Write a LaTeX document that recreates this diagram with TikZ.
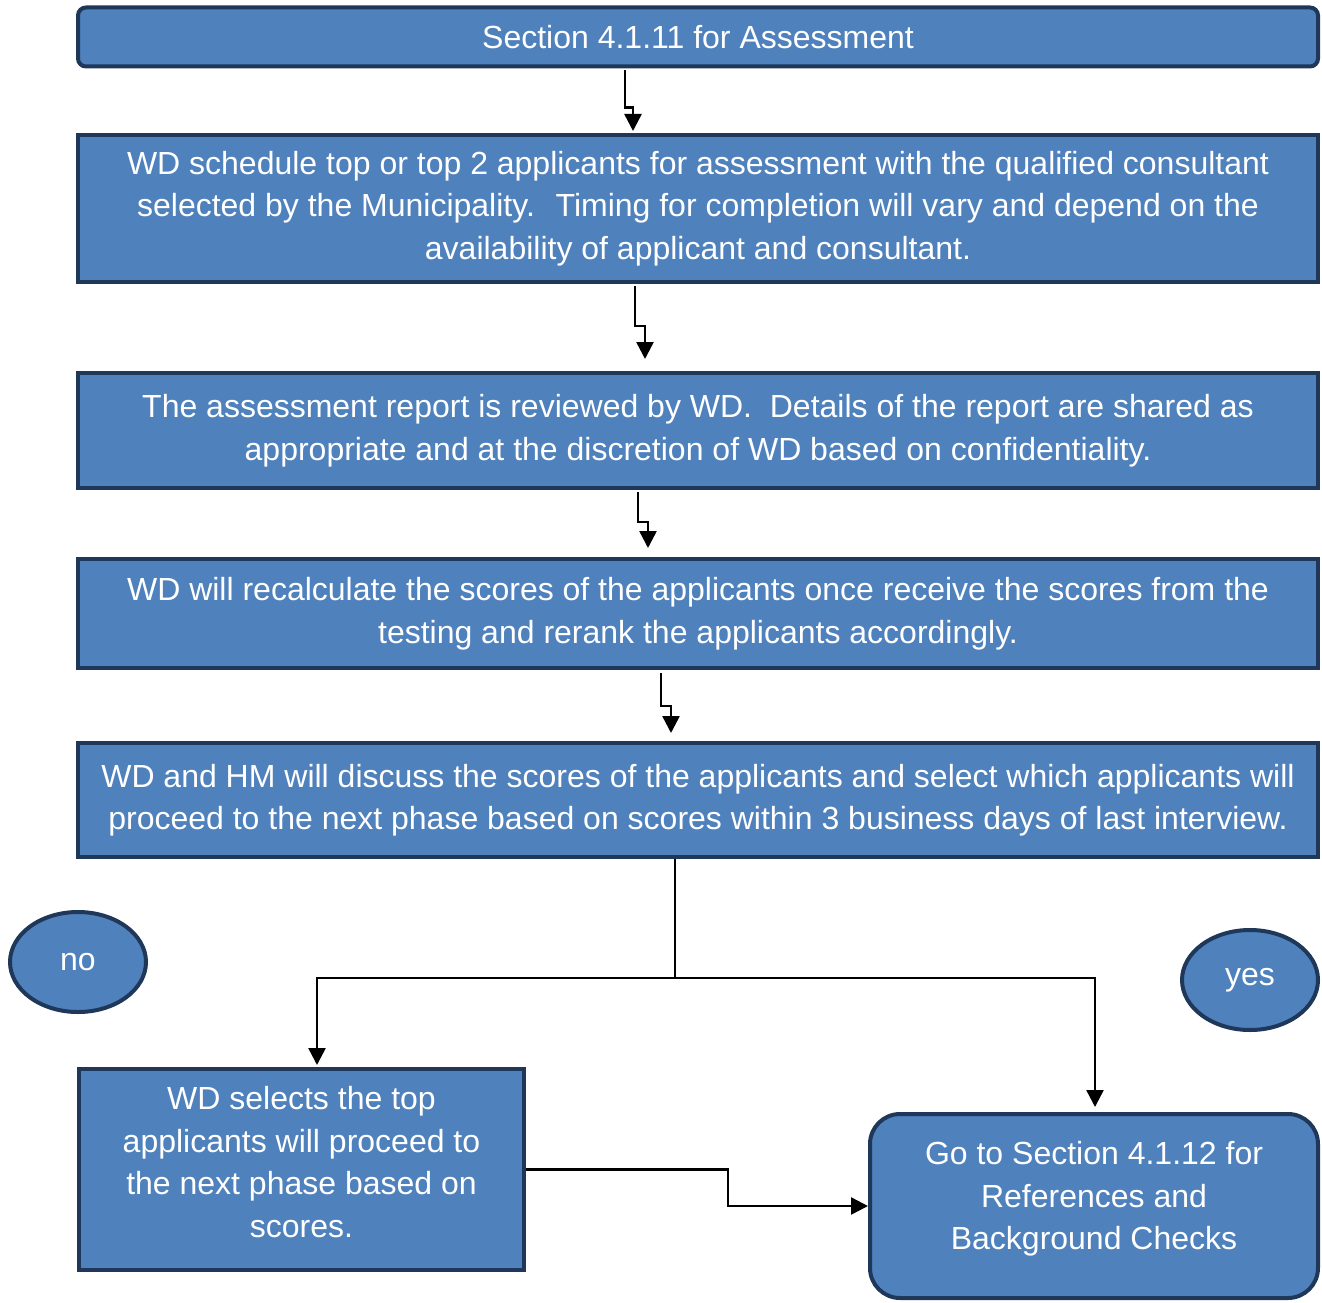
\documentclass[tikz,border=0pt]{standalone}
\usepackage{fontspec}
\setmainfont{Liberation Sans}
\usepackage{tikz}
\usetikzlibrary{calc,arrows.meta,shapes.geometric}
\definecolor{boxblue}{HTML}{4F81BD}
\definecolor{boxedge}{HTML}{1F385A}
\tikzset{>={Triangle[length=17pt,width=17pt]}}
\tikzset{box/.style={draw=boxedge,fill=boxblue,line width=4pt,text=white,align=center,
    font=\fontsize{32}{42.5}\selectfont,inner sep=0pt},
  roundbox/.style={box,rounded corners=30pt},
  oval/.style={box,ellipse,minimum width=136pt,minimum height=100pt},
  arr/.style={->,line width=2.5pt}}
\begin{document}
\begin{tikzpicture}[x=1pt,y=-1pt]
\useasboundingbox (0,0) rectangle (1322,1303);
    \node[box,rounded corners=8pt,minimum width=1240pt,minimum height=59pt] (s1) at (698,37) {Section 4.1.11 for Assessment};
    \node[box,minimum width=1240pt,minimum height=147pt] (s2) at (698,208.5) {WD schedule top or top 2 applicants for assessment with the qualified consultant\\selected by the Municipality.~ Timing for completion will vary and depend on the\\availability of applicant and consultant.};
    \node[box,minimum width=1240pt,minimum height=115pt] (s3) at (698,430.5) {The assessment report is reviewed by WD.~ Details of the report are shared as\\appropriate and at the discretion of WD based on confidentiality.};
    \node[box,minimum width=1240pt,minimum height=109pt] (s4) at (698,613.5) {WD will recalculate the scores of the applicants once receive the scores from the\\testing and rerank the applicants accordingly.};
    \node[box,minimum width=1240pt,minimum height=114pt] (s5) at (698,800) {WD and HM will discuss the scores of the applicants and select which applicants will\\proceed to the next phase based on scores within 3 business days of last interview.};
    \node[oval] (no) at (78,962) {no};
    \node[oval] (yes) at (1250,980) {yes};
    \node[box,minimum width=445pt,minimum height=201pt] (s6) at (301.5,1169.5) {WD selects the top\\applicants will proceed to\\the next phase based on\\scores.\\[-27.5pt]};
    \node[roundbox,minimum width=448pt,minimum height=184pt] (s7) at (1094,1206) {Go to Section 4.1.12 for\\References and\\Background Checks\\[-21.5pt]};
    % steps down the page
    \draw[arr] ($(s1.south)+(-73,2)$) -- ++(0,37) -| ($(s2.north)+(-65,-2)$);
    \draw[arr] ($(s2.south)+(-63,2)$) -- ++(0,40) -| ($(s3.north)+(-53,-12)$);
    \draw[arr] ($(s3.south)+(-60,2)$) -- ++(0,30) -| ($(s4.north)+(-50,-9)$);
    \draw[arr] ($(s4.south)+(-37,3)$) -- ++(0,33) -| ($(s5.north)+(-27,-8)$);
    % the split
    \coordinate (split) at ($(s5.south)+(-23,119)$);
    \draw[line width=2.5pt] ($(s5.south)+(-23,0)$) -- (split);
    \draw[arr] (split) -| ($(s6.north)+(15.5,-2)$);
    \draw[arr] (split) -| ($(s7.north)+(1,-5)$);
    \draw[arr] (s6.east) -- ++(202,0) |- (s7.west);
\end{tikzpicture}
\end{document}
